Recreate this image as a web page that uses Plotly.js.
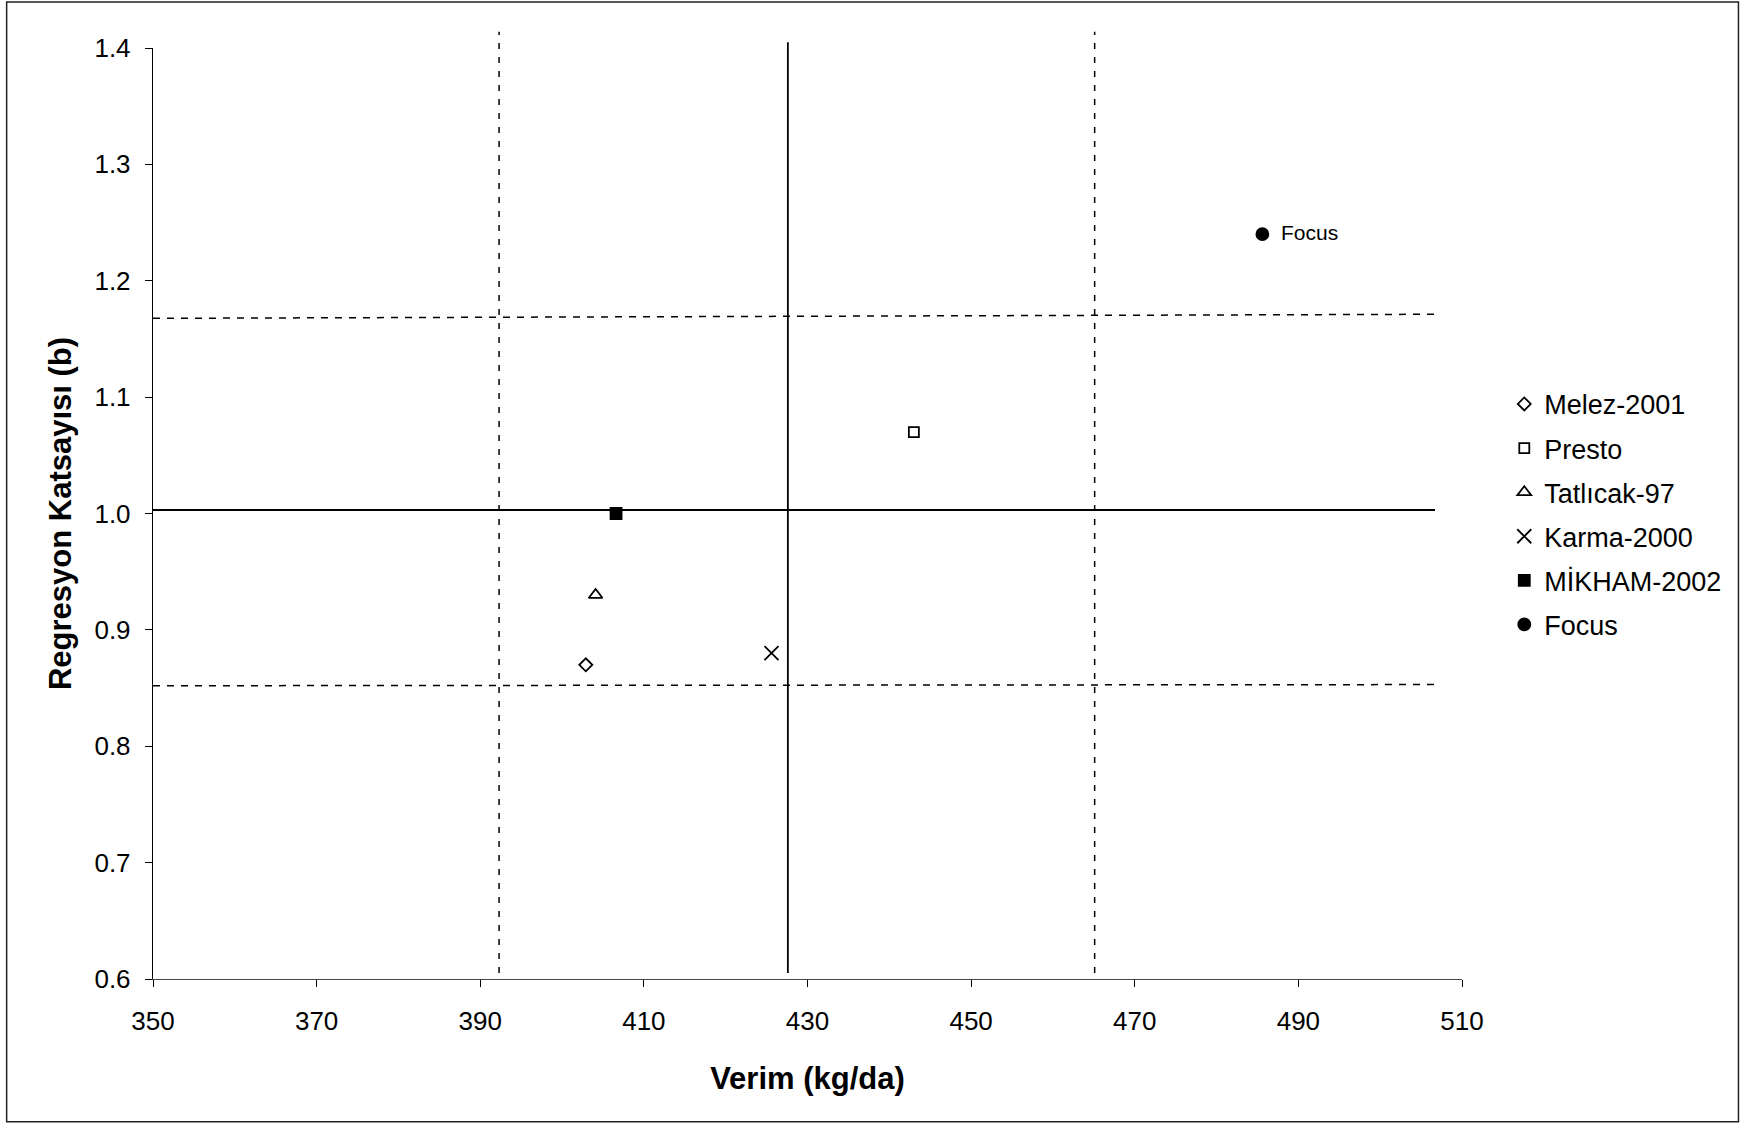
<!DOCTYPE html>
<html>
<head>
<meta charset="utf-8">
<script src="https://cdn.plot.ly/plotly-3.0.1.min.js"></script>
<style>
  html, body { margin: 0; padding: 0; background: #fff; }
  #chart { width: 1744px; height: 1124px; }
</style>
</head>
<body>
<div id="chart"></div>
<script>
// Varieties: mean yield (kg/da) and regression coefficient (b)
const varieties = ['Melez-2001', 'Presto', 'Tatlıcak-97', 'Karma-2000', 'MİKHAM-2002', 'Focus'];
const yieldKgDa = [402.9, 443.0, 404.1, 425.6, 406.6, 485.6];
const regressionB = [0.87, 1.07, 0.93, 0.88, 1.00, 1.24];

// Reference lines: overall mean yield and its limits
const yieldMean = [427.6];
const yieldLimits = [392.3, 465.1];

// Reference lines: b = mean and its limits (drawn across the yield range)
const refLineX = [350, 506.7];
const bMeanLine = [1.003, 1.003];
const bUpperLine = [1.1677, 1.1712];
const bLowerLine = [0.852, 0.853];

// Axis ticks
const xTicks = [350, 370, 390, 410, 430, 450, 470, 490, 510];
const yTicks = [0.6, 0.7, 0.8, 0.9, 1.0, 1.1, 1.2, 1.3, 1.4];

// Marker styles per variety
const markerStyles = [
  { symbol: 'diamond-open', size: 10 },
  { symbol: 'square-open', size: 10 },
  { symbol: 'triangle-up-open', size: 12 },
  { symbol: 'x-thin-open', size: 14 },
  { symbol: 'square', size: 11 },
  { symbol: 'circle', size: 12 }
];

const FONT = 'Liberation Sans, Arial, sans-serif';

const traces = [];

function hLine(y, dash) {
  return {
    x: refLineX, y: y, type: 'scatter', mode: 'lines',
    line: { color: '#000', width: dash ? 1.5 : 1.8, dash: dash ? '7px,7px' : 'solid' },
    showlegend: false, hoverinfo: 'skip'
  };
}
traces.push(hLine(bMeanLine, false));
traces.push(hLine(bUpperLine, true));
traces.push(hLine(bLowerLine, true));

varieties.forEach((name, i) => {
  traces.push({
    x: [yieldKgDa[i]], y: [regressionB[i]],
    type: 'scatter', mode: 'markers', name: name,
    legendgroup: 'g' + i,
    marker: {
      symbol: markerStyles[i].symbol, size: markerStyles[i].size,
      color: '#000', line: { color: '#000', width: 1.8 }
    },
    cliponaxis: false
  });
});

// Vertical reference lines (x in data units, extending slightly past the plot top)
const shapes = [];
yieldLimits.forEach(v => shapes.push({
  type: 'line', xref: 'x', yref: 'paper', x0: v, x1: v, y0: 0.0064, y1: 1.0175,
  line: { color: '#000', width: 1.5, dash: '6px,8px' }
}));
yieldMean.forEach(v => shapes.push({
  type: 'line', xref: 'x', yref: 'paper', x0: v, x1: v, y0: 0.0064, y1: 1.0061,
  line: { color: '#000', width: 1.8 }
}));
// Outer frame
shapes.push({
  type: 'rect', xref: 'paper', yref: 'paper', x0: -0.1118, x1: 1.2112, y0: -0.1532, y1: 1.0494,
  line: { color: '#222', width: 1.5 }, fillcolor: 'rgba(0,0,0,0)'
});

const focusIdx = varieties.indexOf('Focus');

const layout = {
  width: 1744, height: 1124,
  margin: { l: 153, r: 282, t: 48, b: 145 },
  paper_bgcolor: '#fff', plot_bgcolor: '#fff',
  font: { family: FONT, color: '#000', size: 26 },
  showlegend: true,
  legend: {
    x: 1.0323, y: 0.6435, xanchor: 'left', yanchor: 'top',
    font: { family: FONT, size: 27, color: '#000' },
    traceorder: 'grouped', tracegroupgap: 6,
    bgcolor: 'rgba(0,0,0,0)', borderwidth: 0
  },
  xaxis: {
    range: [350, 510], tickvals: xTicks, ticktext: xTicks.map(String),
    ticks: 'outside', ticklen: 7, tickcolor: '#000', tickwidth: 1,
    ticklabelstandoff: 12,
    showline: true, linecolor: '#444', linewidth: 1.2,
    showgrid: false, zeroline: false,
    tickfont: { family: FONT, size: 26, color: '#000' },
    title: { text: 'Verim (kg/da)', font: { family: FONT, size: 31, color: '#000', weight: 'bold' }, standoff: 31 }
  },
  yaxis: {
    range: [0.6, 1.4], tickvals: yTicks, ticktext: yTicks.map(v => v.toFixed(1)),
    ticks: 'outside', ticklen: 7, tickcolor: '#000', tickwidth: 1,
    ticklabelstandoff: 9,
    showline: true, linecolor: '#000', linewidth: 1.2,
    showgrid: false, zeroline: false,
    tickfont: { family: FONT, size: 26, color: '#000' },
    title: { text: 'Regresyon Katsayısı (b)', font: { family: FONT, size: 31, color: '#000', weight: 'bold' }, standoff: 13 }
  },
  shapes: shapes,
  annotations: [{
    x: yieldKgDa[focusIdx], y: regressionB[focusIdx], xref: 'x', yref: 'y',
    text: 'Focus', showarrow: false, xanchor: 'left', yanchor: 'middle', xshift: 17, yshift: 2,
    font: { family: FONT, size: 21, color: '#000' }
  }]
};

Plotly.newPlot('chart', traces, layout, { displayModeBar: false, staticPlot: true });
</script>
</body>
</html>
